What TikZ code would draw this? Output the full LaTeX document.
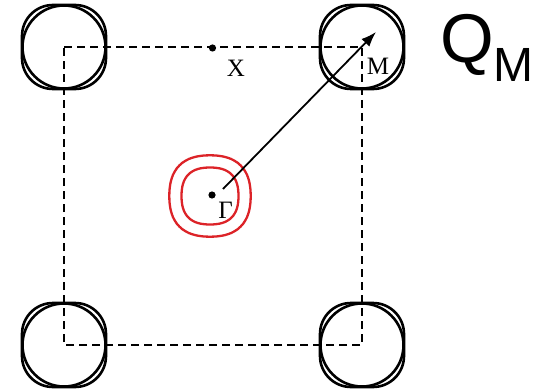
\documentclass[tikz,border=0pt]{standalone}
\usepackage{fontspec}
\setmainfont{Liberation Serif}
\newfontfamily\qfont{Liberation Sans}
\usetikzlibrary{arrows.meta,calc}
\begin{document}
\begin{tikzpicture}[x=1pt,y=-1pt,
  zone/.style={line width=2.6pt},
  redline/.style={line width=2.3pt, draw={rgb,255:red,220;green,35;blue,40}},
  bz/.style={dashed, dash pattern=on 8pt off 5pt, line width=2.2pt},
  lbl/.style={font=\fontsize{25}{27}\selectfont, inner sep=0pt}]
\useasboundingbox (0,0) rectangle (545,390);
% Brillouin zone corners
\coordinate (c1) at (64,47);
\coordinate (c2) at (362,47);
\coordinate (c3) at (362,345);
\coordinate (c4) at (64,345);
\draw[bz] (c1) -- (c2) -- (c3) -- (c4) -- cycle;
% corner pockets
\foreach \c in {c1,c2,c3,c4}{
  \draw[zone] (\c) circle (41.5);
  \draw[zone, rounded corners=31pt] ($(\c)+(-42,-42)$) rectangle ($(\c)+(42,42)$);
}
% Gamma pocket
\coordinate (gc) at (210,196);
\begin{scope}[shift={(gc)}]
\draw[redline] plot[smooth cycle, domain=0:350, samples=36, variable=\t]
  ({(42-1.3*cos(4*\t))*cos(\t)},{(42-1.3*cos(4*\t))*sin(\t)});
\draw[redline] plot[smooth cycle, domain=0:350, samples=36, variable=\t]
  ({(29.5-1*cos(4*\t))*cos(\t)},{(29.5-1*cos(4*\t))*sin(\t)});
\end{scope}
% points
\fill (212,195) circle (3.6) coordinate (G);
\fill (212.5,48) circle (3.6) coordinate (X);
\node[lbl] (Gl) at (225.5,210) {Γ};
\node[lbl] (Xl) at (236,68.5) {X};
\node[lbl] (Ml) at (378,66.5) {M};
\coordinate (as) at (223,189);
\coordinate (at) at (376,32);
\draw[line width=1.8pt, -{Latex[length=15pt,width=11pt]}] (as) -- (at);
\node[inner sep=0pt, anchor=base west] (Q) at (440,63) {\qfont\fontsize{69}{70}\selectfont Q\raisebox{-19pt}{\fontsize{48}{50}\selectfont M}};
\end{tikzpicture}
\end{document}
